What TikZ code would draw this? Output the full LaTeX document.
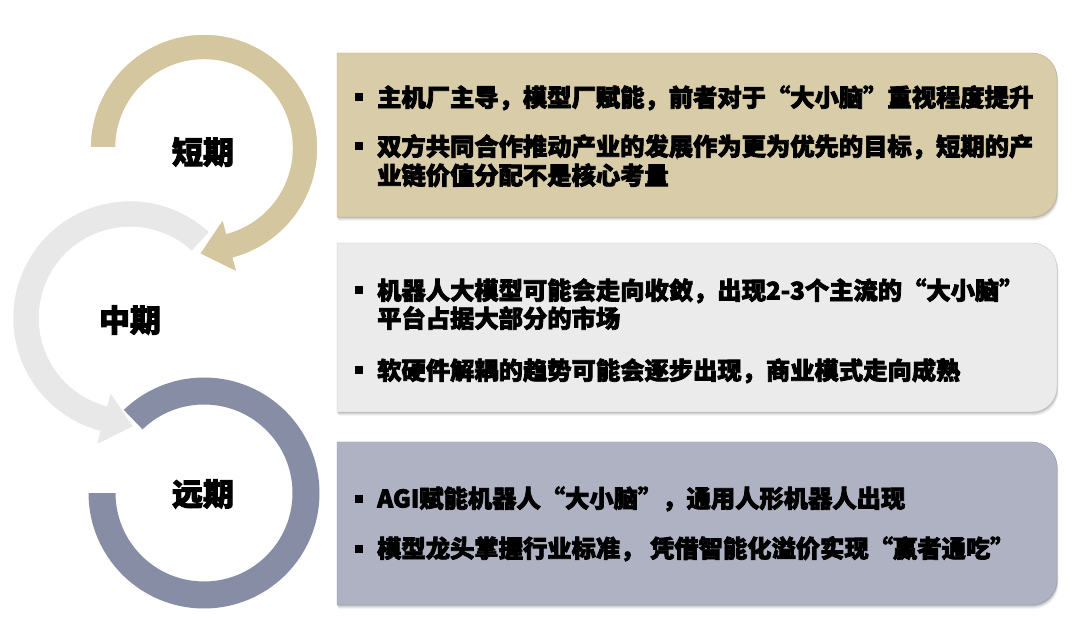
\documentclass[tikz,border=0pt]{standalone}
\usepackage{fontspec}
\newfontfamily\cjk{Noto Sans CJK SC}[BoldFeatures={FakeBold=3}]
\usetikzlibrary{calc}
\definecolor{tanring}{HTML}{D4C69E}
\definecolor{tanbox}{HTML}{D9CDA9}
\definecolor{greyring}{HTML}{E8E8E8}
\definecolor{greybox}{HTML}{EBEBEB}
\definecolor{bluering}{HTML}{878DA5}
\definecolor{bluebox}{HTML}{AEB2C3}
\def\panelpath#1#2{(337,#1) -- (1032,#1) arc[start angle=90,end angle=0,radius=25] -- (1057,#2+25) arc[start angle=0,end angle=-90,radius=25] -- (337,#2) -- cycle}
\begin{document}
\begin{tikzpicture}[x=1pt,y=1pt,
  item/.style={anchor=base west, inner sep=0pt, font=\cjk\bfseries\fontsize{24.3}{29}\selectfont, text=black},
  bul/.style={fill=black, minimum size=8pt, inner sep=0pt},
  phase/.style={font=\cjk\bfseries\fontsize{31}{31}\selectfont, inner sep=0pt, text=black},
  ring/.style={draw=white, line width=1.5pt}]
\useasboundingbox[fill=white] (0,0) rectangle (1080,-628);

% panels with soft shadow
\foreach \t/\b/\c in {-53/-217/tanbox, -243/-412/greybox, -442/-605/bluebox}{
  \foreach \s/\o in {1/0.10, 2/0.08, 3/0.06, 4/0.04}{
    \fill[black, opacity=\o, shift={(0.4*\s,-\s)}] \panelpath{\t}{\b};
  }
  \fill[\c, draw=\c!85!black, line width=0.4pt] \panelpath{\t}{\b};
}

% rings
\coordinate (C1) at (204,-148);
\coordinate (C2) at (130,-318);
\coordinate (C3) at (204,-493);

\fill[bluering] ($(C3)+(-180:115.5)$) arc[start angle=-180,end angle=134,radius=115.5]
  -- ($(C3)+(134:88.5)$) arc[start angle=134,end angle=-180,radius=88.5] -- cycle;

\filldraw[greyring, ring] ($(C2)+(47:117.5)$) arc[start angle=47,end angle=255,radius=117.5]
  -- ($(C2)+(255:132)$) -- ($(C2)+(255:104)+(345:32)$) -- ($(C2)+(255:76)$)
  -- ($(C2)+(255:90.5)$) arc[start angle=255,end angle=47,radius=90.5] -- cycle;

\filldraw[tanring, ring] ($(C1)+(180:114)$) arc[start angle=180,end angle=-75,radius=114]
  -- ($(C1)+(-75:129)$) -- ($(C1)+(-75:101)+(-165:32)$) -- ($(C1)+(-75:73)$)
  -- ($(C1)+(-75:88)$) arc[start angle=-75,end angle=180,radius=88] -- cycle;

% phase labels
\node[phase] (p1) at (203,-152) {短期};
\node[phase] (p2) at (130,-320) {中期};
\node[phase] (p3) at (203,-494) {远期};

% texts
\node[item] (t1)  at (377,-106.5) {主机厂主导，模型厂赋能，前者对于“大小脑”重视程度提升};
\node[item] (t2a) at (377,-155.5) {双方共同合作推动产业的发展作为更为优先的目标，短期的产};
\node[item] (t2b) at (377,-184.5) {业链价值分配不是核心考量};
\node[item] (t3a) at (377,-299.5) {机器人大模型可能会走向收敛，出现2-3个主流的“大小脑”};
\node[item] (t3b) at (377,-327.5) {平台占据大部分的市场};
\node[item] (t4)  at (377,-379.5) {软硬件解耦的趋势可能会逐步出现，商业模式走向成熟};
\node[item] (t5)  at (377,-507.5) {AGI赋能机器人“大小脑”，通用人形机器人出现};
\node[item] (t6)  at (377,-557.5) {模型龙头掌握行业标准， 凭借智能化溢价实现“赢者通吃”};

% bullets
\foreach \n in {t1,t2a,t3a,t4,t5,t6}{
  \node[bul] (b-\n) at ($(\n.base west)+(-18,9)$) {};
}
\end{tikzpicture}
\end{document}
